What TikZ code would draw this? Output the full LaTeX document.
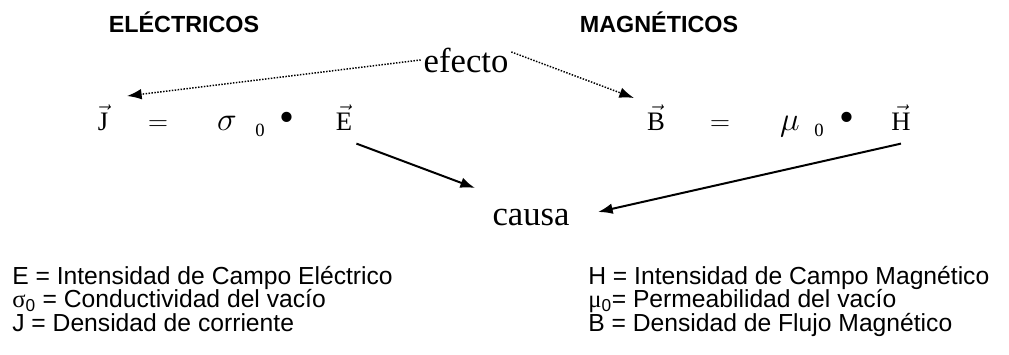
\documentclass[tikz,border=0pt]{standalone}
\usepackage{fontspec}
\setmainfont{Liberation Serif}
\setsansfont{Liberation Sans}
\usetikzlibrary{arrows.meta}
\begin{document}
\begin{tikzpicture}[x=0.75pt, y=-0.75pt, >={Latex[length=11pt,width=8pt]},
          head/.style={font=\sffamily\bfseries\fontsize{17.5}{20}\selectfont, anchor=base},
          word/.style={font=\fontsize{26}{30}\selectfont, anchor=base, inner sep=2pt},
          eq/.style={font=\fontsize{20}{24}\selectfont, anchor=base, inner sep=3pt},
          greek/.style={font=\fontsize{25}{30}\selectfont, anchor=base, inner sep=0pt},
          sub/.style={font=\fontsize{14}{16}\selectfont, anchor=base, inner sep=0pt},
          dot/.style={font=\fontsize{32}{36}\selectfont, inner sep=0pt},
          legend/.style={font=\sffamily\fontsize{18.5}{21}\selectfont, anchor=base west, inner sep=0pt},
          effect/.style={->, line width=1.1pt, dash pattern=on 1.1pt off 1.1pt},
          cause/.style={->, line width=1.5pt}]
        \useasboundingbox (0,0) rectangle (1009,354);
        \node[head] (elec) at (184,32) {ELÉCTRICOS};
        \node[head] (magn) at (659,32) {MAGNÉTICOS};
        \node[word] (efecto) at (466,72) {efecto};
        \node[word] (causa) at (531,225) {causa};
        \node[eq] (J) at (103,130) {$\vec{\mathrm{J}}$};
        \node[eq] (eqJ) at (158,130) {$=$};
        \node[greek] (sigma) at (227,130) {$\sigma$};
        \node[sub] (sigsub) at (260,136) {0};
        \node[dot] (dotE) at (287,122) {•};
        \node[eq] (E) at (344,130) {$\vec{\mathrm{E}}$};
        \node[eq] (B) at (656,130) {$\vec{\mathrm{B}}$};
        \node[eq] (eqB) at (720,130) {$=$};
        \node[greek] (mu) at (790,130) {$\mu$};
        \node[sub] (musub) at (819,136) {0};
        \node[dot] (dotH) at (847,122) {•};
        \node[eq] (H) at (901,130) {$\vec{\mathrm{H}}$};
        \coordinate (jtip) at (127,96);
        \coordinate (btip) at (634,98);
        \coordinate (ecause) at (475,188);
        \coordinate (hcause) at (598,212);
        \draw[effect] (efecto.west) -- (jtip);
        \draw[effect] ([yshift=6pt]efecto.east) -- (btip);
        \draw[cause] ([yshift=-7pt]E.south east) -- (ecause);
        \draw[cause] ([yshift=-7pt]H.south) -- (hcause);
        \node[legend] (legE) at (12,284) {E = Intensidad de Campo Eléctrico};
        \node[legend] (legS) at (12,307) {{\rmfamily σ}\textsubscript{0} = Conductividad del vacío};
        \node[legend] (legJ) at (12,331) {J = Densidad de corriente};
        \node[legend] (legH) at (588,284) {H = Intensidad de Campo Magnético};
        \node[legend] (legM) at (588,307) {{\rmfamily μ}\textsubscript{0}= Permeabilidad del vacío};
        \node[legend] (legB) at (588,331) {B = Densidad de Flujo Magnético};
      \end{tikzpicture}
\end{document}
